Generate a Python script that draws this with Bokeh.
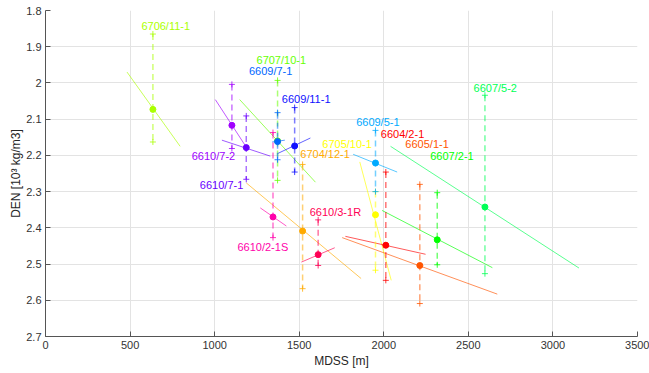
from bokeh.plotting import figure
from bokeh.models import ColumnDataSource, Range1d, FixedTicker, CustomJSTickFormatter
from bokeh.core.properties import value
from bokeh.embed import file_html
from bokeh.resources import INLINE

# Wells: sub-seabed depth (MDSS, m) and density (10^3 kg/m3)
wells = ["6706/11-1", "6707/10-1", "6609/7-1", "6609/11-1", "6610/7-2",
         "6610/7-1", "6610/2-1S", "6704/12-1", "6610/3-1R", "6705/10-1",
         "6609/5-1", "6604/2-1", "6605/1-1", "6607/2-1", "6607/5-2"]
mdss = [635, 1372, 1372, 1473, 1102, 1187, 1345, 1520, 1612, 1951,
        1951, 2012, 2213, 2316, 2598]
den = [2.073, 2.160, 2.162, 2.174, 2.117, 2.1785, 2.370, 2.409, 2.474, 2.364,
       2.221, 2.448, 2.504, 2.433, 2.3425]
# density range (min / max) for each well
den_min = [1.865, 1.993, 2.082, 2.068, 2.004, 2.091, 2.137, 2.225, 2.378, 2.300,
           2.131, 2.246, 2.280, 2.303, 2.034]
den_max = [2.163, 2.269, 2.212, 2.246, 2.181, 2.266, 2.427, 2.568, 2.504, 2.517,
           2.300, 2.545, 2.609, 2.502, 2.5265]
# local density trend for each well (start / end)
trend_x0 = [482, 1148, 1340, 1372, 1004, 1043, 1270, 1187, 1513, 1858,
            1819, 1773, 1754, 1990, 2040]
trend_x1 = [796, 1596, 1415, 1566, 1191, 1329, 1424, 1866, 1710, 2044,
            2079, 2247, 2671, 2642, 3154]
trend_y0 = [1.970, 2.046, 2.163, 2.195, 2.046, 2.158, 2.345, 2.276, 2.4945, 2.218,
            2.197, 2.4235, 2.427, 2.352, 2.175]
trend_y1 = [2.175, 2.274, 2.158, 2.152, 2.180, 2.202, 2.395, 2.540, 2.455, 2.545,
            2.246, 2.473, 2.583, 2.510, 2.511]
colors = ["#aaff00", "#66ff00", "#0066ff", "#1010ff", "#a000ff",
          "#6a00ff", "#ff00aa", "#ffaa00", "#ff0055", "#ffff00",
          "#00aaff", "#ff0000", "#ff5500", "#00ff00", "#00ff55"]

# where each well name is written
label_x = [711, 1394, 1331, 1541, 993, 1041, 1285, 1653, 1714, 1783,
           1965, 2111, 2256, 2403, 2659]
label_y = [1.843, 1.937, 1.968, 2.043, 2.2025, 2.2826, 2.453, 2.195, 2.356, 2.1675,
           2.1077, 2.1398, 2.169, 2.2025, 2.0127]

x_ticks = [0, 500, 1000, 1500, 2000, 2500, 3000, 3500]
y_ticks = [1.8, 1.9, 2.0, 2.1, 2.2, 2.3, 2.4, 2.5, 2.6, 2.7]

src = ColumnDataSource(dict(
    well=wells, mdss=mdss, den=den, dmin=den_min, dmax=den_max,
    tx0=trend_x0, tx1=trend_x1, ty0=trend_y0, ty1=trend_y1,
    color=colors, lx=label_x, ly=label_y,
))

FONT = "Liberation Sans"

p = figure(width=649, height=373, output_backend="svg", toolbar_location=None,
           x_range=Range1d(0, 3500), y_range=Range1d(2.7, 1.8),
           min_border_left=45, min_border_right=12, min_border_top=10,
           min_border_bottom=37)
p.outline_line_color = None
p.background_fill_color = "white"
p.border_fill_color = "white"

# trend lines
p.segment(x0="tx0", y0="ty0", x1="tx1", y1="ty1", source=src,
          line_color="color", line_alpha=0.65, line_width=1)
# density ranges
p.segment(x0="mdss", y0="dmin", x1="mdss", y1="dmax", source=src,
          line_color="color", line_alpha=0.55, line_width=1.5, line_dash="6 4")
p.scatter(x="mdss", y="dmin", source=src, marker="cross", size=6,
          line_color="color", line_alpha=0.8, line_width=1)
p.scatter(x="mdss", y="dmax", source=src, marker="cross", size=6,
          line_color="color", line_alpha=0.8, line_width=1)
# mean density per well
p.scatter(x="mdss", y="den", source=src, marker="circle", size=6,
          fill_color="color", line_color="color")
# well names
p.text(x="lx", y="ly", text="well", source=src, text_color="color",
       text_align="center", text_baseline="middle", text_font_size="11px",
       text_font=value(FONT))

p.xaxis.ticker = FixedTicker(ticks=x_ticks)
p.yaxis.ticker = FixedTicker(ticks=y_ticks)
p.yaxis.formatter = CustomJSTickFormatter(code="return String(Math.round(tick*10)/10)")
p.xaxis.axis_label = "MDSS [m]"
p.yaxis.axis_label = "DEN [10³ kg/m3]"

for ax in (p.xaxis, p.yaxis):
    ax.major_tick_in = 5
    ax.major_tick_out = 0
    ax.minor_tick_in = 0
    ax.minor_tick_out = 0
    ax.axis_line_color = "#555555"
    ax.major_tick_line_color = "#555555"
    ax.major_label_text_font = FONT
    ax.major_label_text_font_size = "11px"
    ax.major_label_text_color = "#333333"
    ax.axis_label_text_font = FONT
    ax.axis_label_text_font_size = "12px"
    ax.axis_label_text_font_style = "normal"
    ax.axis_label_text_color = "#262626"
p.xaxis.major_label_standoff = 4
p.xaxis.axis_label_standoff = 2
p.yaxis.major_label_standoff = 4
p.yaxis.axis_label_standoff = 0

p.xgrid.grid_line_color = "#e3e3e3"
p.ygrid.grid_line_color = "#e3e3e3"

open("out.html", "w").write(file_html(p, INLINE))
